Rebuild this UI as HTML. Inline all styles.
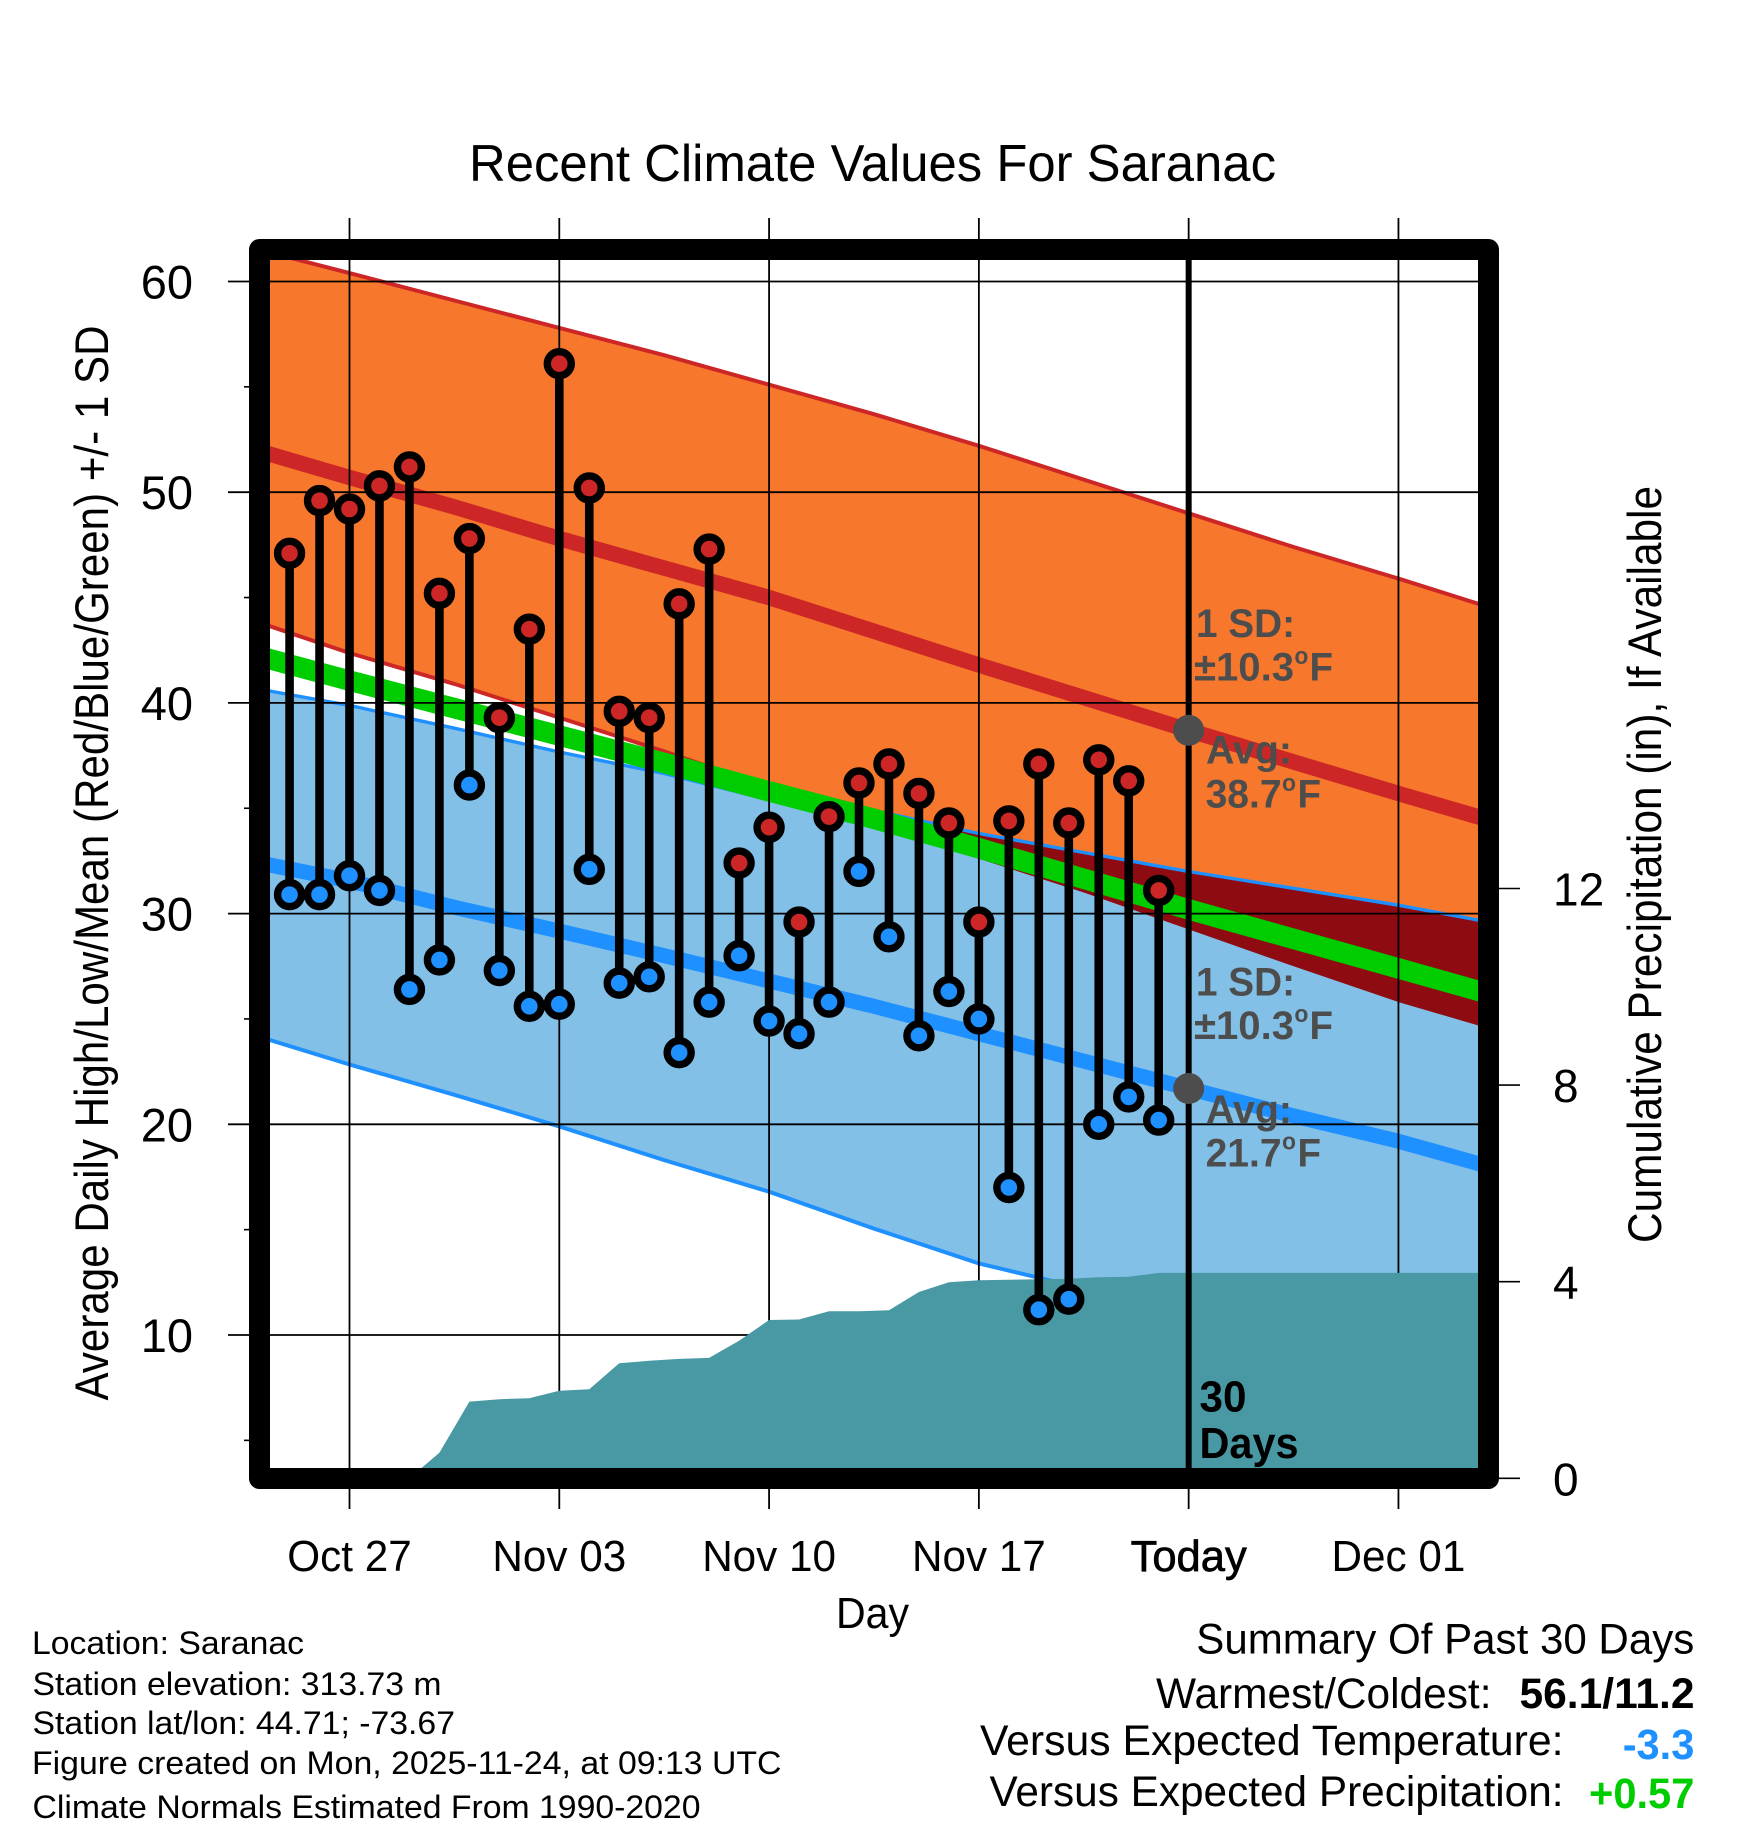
<!DOCTYPE html>
<html lang="en">
<head>
<meta charset="utf-8">
<title>Recent Climate Values For Saranac</title>
<style>
html,body{margin:0;padding:0;background:#fff;width:1748px;height:1828px;overflow:hidden}
svg{display:block}
text{font-family:"Liberation Sans",sans-serif;fill:#000}
.g{font-weight:bold;fill:#4d4d4d}
</style>
</head>
<body>
<svg id="chart" xmlns="http://www.w3.org/2000/svg" width="1748" height="1828" viewBox="0 0 1748 1828">
  <defs>
    <clipPath id="plot-clip"><rect x="270" y="260" width="1208" height="1208"/></clipPath>
    <clipPath id="low-band-clip"><polygon id="low-band-clip-shape" points="0,0"/></clipPath>
  </defs>
  <rect width="1748" height="1828" fill="#fff"/>
  <g id="bands" clip-path="url(#plot-clip)"></g>
  <g id="grid"></g>
  <g id="precip" clip-path="url(#plot-clip)"></g>
  <g id="obs"></g>
  <g id="today"></g>
  <rect x="259.5" y="249.5" width="1229" height="1229" fill="none" stroke="#000" stroke-width="21" stroke-linejoin="round"/>
  <g id="labels"></g>

  <text x="469" y="181" font-size="52" textLength="807" lengthAdjust="spacingAndGlyphs">Recent Climate Values For Saranac</text>
  <text transform="translate(108,1400.5) rotate(-90)" font-size="47" textLength="1075" lengthAdjust="spacingAndGlyphs">Average Daily High/Low/Mean (Red/Blue/Green) +/- 1 SD</text>
  <text transform="translate(1661,1243) rotate(-90)" font-size="47" textLength="757" lengthAdjust="spacingAndGlyphs">Cumulative Precipitation (in), If Available</text>
  <text x="836" y="1628" font-size="44" textLength="73" lengthAdjust="spacingAndGlyphs">Day</text>

  <text class="g" x="1196" y="637" font-size="40" textLength="99" lengthAdjust="spacingAndGlyphs">1 SD:</text>
  <text class="g" x="1194" y="680.4" font-size="40" textLength="100" lengthAdjust="spacingAndGlyphs">±10.3</text>
  <text class="g" x="1294.4" y="664" font-size="24" textLength="14" lengthAdjust="spacingAndGlyphs">o</text>
  <text class="g" x="1309.5" y="680.4" font-size="40" textLength="23.5" lengthAdjust="spacingAndGlyphs">F</text>
  <text class="g" x="1206" y="763.4" font-size="40" textLength="86" lengthAdjust="spacingAndGlyphs">Avg:</text>
  <text class="g" x="1205.6" y="807.6" font-size="40" textLength="76" lengthAdjust="spacingAndGlyphs">38.7</text>
  <text class="g" x="1282" y="791" font-size="24" textLength="14" lengthAdjust="spacingAndGlyphs">o</text>
  <text class="g" x="1297.5" y="807.6" font-size="40" textLength="23.5" lengthAdjust="spacingAndGlyphs">F</text>

  <text class="g" x="1196" y="995.5" font-size="40" textLength="99" lengthAdjust="spacingAndGlyphs">1 SD:</text>
  <text class="g" x="1194" y="1038.8" font-size="40" textLength="100" lengthAdjust="spacingAndGlyphs">±10.3</text>
  <text class="g" x="1294.4" y="1022" font-size="24" textLength="14" lengthAdjust="spacingAndGlyphs">o</text>
  <text class="g" x="1309.5" y="1038.8" font-size="40" textLength="23.5" lengthAdjust="spacingAndGlyphs">F</text>
  <text class="g" x="1206" y="1123" font-size="40" textLength="86" lengthAdjust="spacingAndGlyphs">Avg:</text>
  <text class="g" x="1205.6" y="1166.5" font-size="40" textLength="76" lengthAdjust="spacingAndGlyphs">21.7</text>
  <text class="g" x="1282" y="1149.5" font-size="24" textLength="14" lengthAdjust="spacingAndGlyphs">o</text>
  <text class="g" x="1297.5" y="1166.5" font-size="40" textLength="23.5" lengthAdjust="spacingAndGlyphs">F</text>

  <text font-weight="bold" x="1199.5" y="1411.5" font-size="44" textLength="47" lengthAdjust="spacingAndGlyphs">30</text>
  <text font-weight="bold" x="1199.5" y="1458" font-size="44" textLength="99" lengthAdjust="spacingAndGlyphs">Days</text>

  <text x="32" y="1654" font-size="32.5" textLength="272" lengthAdjust="spacingAndGlyphs">Location: Saranac</text>
  <text x="32.5" y="1695" font-size="32.5" textLength="409" lengthAdjust="spacingAndGlyphs">Station elevation: 313.73 m</text>
  <text x="32.5" y="1734" font-size="32.5" textLength="422.5" lengthAdjust="spacingAndGlyphs">Station lat/lon: 44.71; -73.67</text>
  <text x="32" y="1774" font-size="32.5" textLength="749.5" lengthAdjust="spacingAndGlyphs">Figure created on Mon, 2025-11-24, at 09:13 UTC</text>
  <text x="32.5" y="1818" font-size="32.5" textLength="668" lengthAdjust="spacingAndGlyphs">Climate Normals Estimated From 1990-2020</text>

  <text x="1196.3" y="1653.3" font-size="43" textLength="498" lengthAdjust="spacingAndGlyphs">Summary Of Past 30 Days</text>
  <text x="1156" y="1708" font-size="43" textLength="335.5" lengthAdjust="spacingAndGlyphs">Warmest/Coldest:</text>
  <text font-weight="bold" x="1519.5" y="1708" font-size="43" textLength="175" lengthAdjust="spacingAndGlyphs">56.1/11.2</text>
  <text x="980" y="1755" font-size="43" textLength="583.5" lengthAdjust="spacingAndGlyphs">Versus Expected Temperature:</text>
  <text font-weight="bold" style="fill:#1e90ff" x="1622.7" y="1759" font-size="43" textLength="71.7" lengthAdjust="spacingAndGlyphs">-3.3</text>
  <text x="989.5" y="1806" font-size="43" textLength="574" lengthAdjust="spacingAndGlyphs">Versus Expected Precipitation:</text>
  <text font-weight="bold" style="fill:#00cd00" x="1589" y="1808" font-size="43" textLength="105.4" lengthAdjust="spacingAndGlyphs">+0.57</text>
</svg>

<script>
// Normal curves at these day offsets (day 0 = Oct 27)
const normalDays = [-3, 0, 3.5, 7, 10.5, 14, 17.5, 21, 24.5, 28, 31.5, 35, 38];
const highUpper = [61.5, 60.4, 59.1, 57.8, 56.5, 55.1, 53.7, 52.2, 50.6, 49.0, 47.4, 45.9, 44.55];
const highMean = [51.95, 50.7, 49.3, 47.8, 46.4, 45.0, 43.4, 41.8, 40.25, 38.7, 37.2, 35.7, 34.45];
const highLower = [43.8, 42.37, 40.9, 39.3, 37.7, 36.0, 34.3, 32.6, 31.0, 29.25, 27.5, 25.8, 24.55];
const meanNormal = [42.2, 41.06, 39.75, 38.45, 37.15, 35.8, 34.5, 33.1, 31.65, 30.2, 28.8, 27.4, 26.2];
const lowUpper = [40.65, 39.88, 38.8, 37.67, 36.65, 35.4, 34.9, 33.8, 32.9, 32.0, 31.2, 30.4, 29.6];
const lowMean = [32.4, 31.55, 30.3, 29.17, 28.0, 26.8, 25.6, 24.3, 23.0, 21.7, 20.4, 19.2, 18.0];
const lowLower = [24.15, 22.84, 21.4, 19.9, 18.3, 16.8, 15.05, 13.4, 12.2, 11.4, 10.0, 8.6, 7.65];

// Daily observations, first one on Oct 25 (day -2)
const firstObsDay = -2;
const dailyHighs = [47.1, 49.6, 49.2, 50.3, 51.2, 45.2, 47.8, 39.3, 43.5, 56.1, 50.2, 39.6, 39.3, 44.7, 47.3, 32.4, 34.1, 29.6, 34.6, 36.2, 37.1, 35.7, 34.3, 29.6, 34.4, 37.1, 34.3, 37.3, 36.3, 31.1];
const dailyLows = [30.9, 30.9, 31.8, 31.1, 26.4, 27.8, 36.1, 27.3, 25.6, 25.7, 32.1, 26.7, 27.0, 23.4, 25.8, 28.0, 24.9, 24.3, 25.8, 32.0, 28.9, 24.2, 26.3, 25.0, 17.0, 11.2, 11.7, 20.0, 21.3, 20.2];
const dailyPrecip = [0, 0, 0, 0, 0, 0.52, 1.56, 1.61, 1.63, 1.78, 1.81, 2.34, 2.39, 2.43, 2.45, 2.80, 3.22, 3.23, 3.40, 3.40, 3.42, 3.79, 3.99, 4.03, 4.04, 4.05, 4.06, 4.09, 4.10, 4.18];

// Axes
const xTickDays = [0, 7, 14, 21, 28, 35];
const xTickLabels = ['Oct 27', 'Nov 03', 'Nov 10', 'Nov 17', 'Today', 'Dec 01'];
const yMajorTicks = [60, 50, 40, 30, 20, 10];
const yMinorTicks = [55, 45, 35, 25, 15, 5];
const precipTicks = [0, 4, 8, 12];
const todayDay = 28;
const todayHighAvg = 38.7;
const todayLowAvg = 21.7;

function xDay(d) { return 349.5 + 29.97 * d; }
function yTemp(v) { return 281.5 + (60 - v) * 21.07; }
function yPrecip(p) { return 1478.3 - 49.15 * p; }

const NS = 'http://www.w3.org/2000/svg';
function shape(parent, tag, attrs) {
  const el = document.createElementNS(NS, tag);
  for (const k in attrs) el.setAttribute(k, attrs[k]);
  parent.appendChild(el);
  return el;
}
function curvePoints(vals) {
  return normalDays.map((d, i) => xDay(d).toFixed(1) + ',' + yTemp(vals[i]).toFixed(1));
}
function bandPoints(top, bottom) {
  return curvePoints(top).concat(curvePoints(bottom).reverse()).join(' ');
}

const bands = document.getElementById('bands');
const grid = document.getElementById('grid');
const precip = document.getElementById('precip');
const obs = document.getElementById('obs');
const today = document.getElementById('today');
const labels = document.getElementById('labels');

// Bands and normals
const highBand = shape(bands, 'polygon', { points: bandPoints(highUpper, highLower), fill: '#f7782c' });



const highUpperLine = shape(bands, 'polyline', { points: curvePoints(highUpper).join(' '), fill: 'none', stroke: '#cd2626', 'stroke-width': 4 });



const highLowerLine = shape(bands, 'polyline', { points: curvePoints(highLower).join(' '), fill: 'none', stroke: '#cd2626', 'stroke-width': 4 });



const highMeanLine = shape(bands, 'polyline', { points: curvePoints(highMean).join(' '), fill: 'none', stroke: '#cd2626', 'stroke-width': 15.5 });



const lowBand = shape(bands, 'polygon', { points: bandPoints(lowUpper, lowLower), fill: '#82c0e8' });



document.getElementById('low-band-clip-shape').setAttribute('points', bandPoints(lowUpper, lowLower));
const overlap = shape(bands, 'polygon', { points: bandPoints(highUpper, highLower), fill: '#8e0b12', 'clip-path': 'url(#low-band-clip)' });



const lowUpperLine = shape(bands, 'polyline', { points: curvePoints(lowUpper).join(' '), fill: 'none', stroke: '#1e90ff', 'stroke-width': 3.4 });



const lowLowerLine = shape(bands, 'polyline', { points: curvePoints(lowLower).join(' '), fill: 'none', stroke: '#1e90ff', 'stroke-width': 4 });



const lowMeanLine = shape(bands, 'polyline', { points: curvePoints(lowMean).join(' '), fill: 'none', stroke: '#1e90ff', 'stroke-width': 15 });



const meanLine = shape(bands, 'polyline', { points: curvePoints(meanNormal).join(' '), fill: 'none', stroke: '#00cd00', 'stroke-width': 20.5 });



// Grid and ticks
yMajorTicks.forEach((v, i) => {
  const line = shape(grid, 'line', { x1: 228, x2: 1488, y1: yTemp(v), y2: yTemp(v), stroke: '#000', 'stroke-width': 1.8 });
  
  
  const t = shape(labels, 'text', { x: 193, y: yTemp(v) + 17, 'text-anchor': 'end', 'font-size': 47 });
  t.textContent = String(v);
  
  
});
yMinorTicks.forEach((v) => {
  const line = shape(grid, 'line', { x1: 244, x2: 252, y1: yTemp(v), y2: yTemp(v), stroke: '#000', 'stroke-width': 1.6 });
  
  
});
xTickDays.forEach((d, i) => {
  const line = shape(grid, 'line', { x1: xDay(d), x2: xDay(d), y1: 218, y2: 1509, stroke: '#000', 'stroke-width': 1.8 });
  
  
  const isToday = d === todayDay;
  const t = shape(labels, 'text', { transform: 'translate(' + xDay(d) + ',1571) scale(' + (isToday ? 0.99 : 0.96) + ',1)', 'text-anchor': 'middle', 'font-size': 44, stroke: '#000', 'stroke-width': isToday ? 0.7 : 0 });
  t.textContent = xTickLabels[i];
  
  
});
precipTicks.forEach((p) => {
  const line = shape(grid, 'line', { x1: 1495, x2: 1520, y1: yPrecip(p), y2: yPrecip(p), stroke: '#000', 'stroke-width': 1.6 });
  
  
  const t = shape(labels, 'text', { x: 1553, y: yPrecip(p) + 17, 'font-size': 46 });
  t.textContent = String(p);
  
  
});

// Cumulative precipitation area, held flat after the last observation
const precipPts = [xDay(firstObsDay).toFixed(1) + ',' + yPrecip(0).toFixed(1)];
dailyPrecip.forEach((p, i) => {
  precipPts.push(xDay(firstObsDay + i).toFixed(1) + ',' + yPrecip(p).toFixed(1));
});
precipPts.push(xDay(38).toFixed(1) + ',' + yPrecip(dailyPrecip[dailyPrecip.length - 1]).toFixed(1));
precipPts.push(xDay(38).toFixed(1) + ',' + yPrecip(0).toFixed(1));
const precipArea = shape(precip, 'polygon', { points: precipPts.join(' '), fill: '#4899a4' });



// Daily high/low stems with markers
dailyHighs.forEach((hi, i) => {
  const x = xDay(firstObsDay + i);
  const lo = dailyLows[i];
  const stem = shape(obs, 'line', { x1: x, x2: x, y1: yTemp(hi), y2: yTemp(lo), stroke: '#000', 'stroke-width': 8.6 });
  
  
  const hiDot = shape(obs, 'circle', { cx: x, cy: yTemp(hi), r: 12, fill: '#cd2626', stroke: '#000', 'stroke-width': 7.4 });
  
  
  const loDot = shape(obs, 'circle', { cx: x, cy: yTemp(lo), r: 12, fill: '#1e90ff', stroke: '#000', 'stroke-width': 7.4 });
  
  
});

// Today marker
const todayLine = shape(today, 'line', { x1: xDay(todayDay), x2: xDay(todayDay), y1: 260, y2: 1470, stroke: '#000', 'stroke-width': 6 });


const highAvgDot = shape(today, 'circle', { cx: xDay(todayDay), cy: yTemp(todayHighAvg), r: 15.5, fill: '#4d4d4d' });


const lowAvgDot = shape(today, 'circle', { cx: xDay(todayDay), cy: yTemp(todayLowAvg), r: 15.5, fill: '#4d4d4d' });


</script>
</body>
</html>
